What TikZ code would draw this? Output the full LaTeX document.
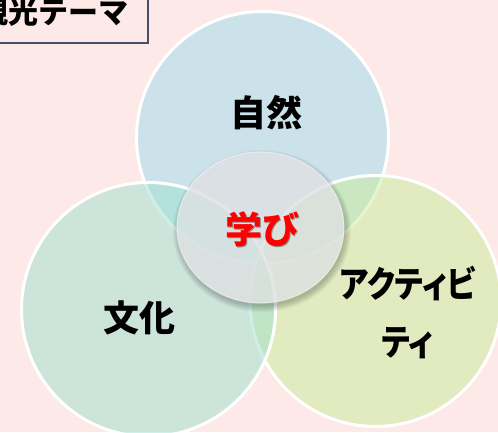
\documentclass[tikz,border=0pt]{standalone}
\usepackage{fontspec}
\newfontfamily\jp{Noto Sans CJK JP}
\newfontfamily\jpp{Noto Sans CJK JP}[RawFeature=+palt, FakeStretch=0.86]
\usetikzlibrary{shapes.geometric,shadows}
\definecolor{bgpink}{RGB}{253,233,231}
\definecolor{ctop}{RGB}{157,221,239}
\definecolor{cleft}{RGB}{157,225,205}
\definecolor{cright}{RGB}{201,237,155}
\definecolor{cmid}{RGB}{222,224,226}
\definecolor{boxline}{RGB}{74,78,104}
\begin{document}
\begin{tikzpicture}[x=1pt,y=-1pt,
  venn/.style={circle, draw=white, line width=3pt, fill opacity=0.5, inner sep=0pt},
  vlabel/.style={font=\jp\bfseries\fontsize{36}{40}\selectfont, text=black, inner sep=0pt},
  klabel/.style={font=\jpp\bfseries\fontsize{36}{58}\selectfont, text=black, align=center, inner sep=0pt},
  mlabel/.style={font=\jp\bfseries\fontsize{37}{40}\selectfont, inner sep=0pt},
]
\fill[bgpink] (0,0) rectangle (498,432);
\useasboundingbox (0,0) rectangle (498,432);
\clip (0,0) rectangle (498,432);
% Venn circles
\node[venn, fill=ctop, minimum size=252pt] (nature) at (262.5,137.5) {};
\node[venn, fill=cright, minimum size=251pt] (activity) at (375.5,301) {};
\node[venn, fill=cleft, minimum size=254pt] (culture) at (148.5,309.5) {};
% soft shadow of the centre ellipse
\begin{scope}[even odd rule]
  \clip (0,0) rectangle (498,432) (260.5,227.5) ellipse [x radius=83.5pt, y radius=75.5pt];
  \foreach \i in {1,...,7}
    \fill[black, opacity=0.035] (262,231) ellipse [x radius={82pt+\i*1pt}, y radius={74pt+\i*1pt}];
\end{scope}
% centre ellipse
\node[ellipse, minimum width=167pt, minimum height=151pt, inner sep=0pt,
      fill=cmid, fill opacity=0.8, draw=white, draw opacity=0.45, line width=1.2pt] (learn) at (260.5,227.5) {};
% labels
\node[vlabel] (tnature) at (266,113) {自然};
\node[vlabel] (tculture) at (139,318) {文化};
\node[klabel] (tactivity) at (407.5,312) {アクティビ\\ティ};
\node[mlabel, text=black!55, opacity=0.7] (tlearnshadow) at (263.8,230.8) {学び};
\node[mlabel, text=red] (tlearn) at (262,229) {学び};
% theme box
\node[draw=boxline, line width=1.5pt, fill=bgpink, minimum width=188pt, minimum height=62pt,
      anchor=south east, inner sep=0pt, font=\jp\bfseries\fontsize{30}{32}\selectfont,
      drop shadow={shadow xshift=1.2pt, shadow yshift=-1.2pt, opacity=0.35}] (theme) at (148.5,43.5) {観光テーマ};
\end{tikzpicture}
\end{document}
